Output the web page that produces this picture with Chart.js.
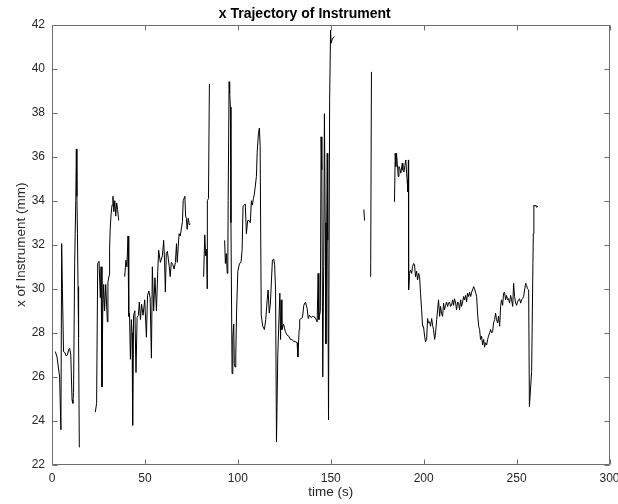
<!DOCTYPE html>
<html>
<head>
<meta charset="utf-8">
<title>x Trajectory of Instrument</title>
<script src="https://cdn.jsdelivr.net/npm/chart.js@4.4.1/dist/chart.umd.min.js"></script>
<style>
  html, body { margin: 0; padding: 0; background: #fff; }
</style>
</head>
<body>
<canvas id="myChart" width="618" height="504"></canvas>
<script>
// recorded segments of the instrument x position (time in s, x in mm)
// the tracker lost the instrument between segments, so they are drawn with gaps
var time1 = [1.8, 2.7, 4.1, 4.8, 5.2, 5.6, 6.2, 7.0, 7.6, 8.3, 9.0, 9.5, 10.1, 10.8, 11.2, 11.6, 12.2, 12.8, 13.1, 13.4, 13.7, 14.0, 14.3, 14.7];
var xPos1 = [27.15, 26.9, 26.0, 23.6, 32.05, 30.0, 27.15, 27.1, 26.95, 27.0, 27.25, 27.3, 27.0, 24.95, 24.8, 25.3, 31.2, 34.0, 36.35, 34.2, 32.5, 30.1, 27.8, 22.8];

var time2 = [23.3, 24.0, 24.6, 25.3, 26.0, 26.4, 26.9, 27.3, 27.8, 28.3, 28.9, 29.8, 30.1, 30.7, 31.0, 31.3, 31.8, 32.3, 32.8, 33.3, 33.8, 34.3, 34.8, 35.3, 35.9];
var xPos2 = [24.4, 24.8, 31.15, 31.25, 29.6, 31.0, 25.55, 28.9, 30.2, 29.0, 30.2, 28.5, 30.3, 30.6, 31.8, 32.7, 33.4, 33.8, 34.2, 33.5, 34.0, 33.3, 33.9, 33.6, 33.1];

var time3 = [39.1, 39.8, 40.3, 40.9, 41.3, 41.7, 42.2, 42.7, 43.1, 43.4,
             43.9, 44.6, 45.2, 45.8, 46.5, 47.0, 47.6, 48.2, 49.0, 49.9,
             50.8, 51.4, 52.1, 52.8, 53.5, 54.0, 54.7, 55.4, 56.2, 56.9,
             57.4, 58.3, 59.4, 60.1, 60.6, 61.0, 61.5, 62.1, 63.1, 63.6,
             64.2, 65.0, 65.7, 66.4, 67.0, 67.4, 67.9, 68.4, 69.0, 70.2,
             70.6, 71.5, 71.9, 72.3, 72.7, 73.3, 73.9, 74.4];
var xPos3 = [30.55, 31.3, 31.0, 32.4, 28.75, 28.9, 26.8, 28.6, 28.0, 23.8,
             28.8, 29.0, 26.2, 28.7, 28.8, 29.4, 28.6, 29.3, 28.8, 29.5,
             27.8, 29.7, 29.9, 29.6, 26.85, 31.0, 29.0, 30.5, 29.0, 30.8,
             31.75, 31.2, 31.5, 32.2, 31.2, 29.85, 31.6, 31.7, 31.0, 30.55,
             31.2, 31.1, 30.9, 31.2, 32.05, 31.2, 31.9, 32.5, 32.4, 33.05,
             34.0, 34.2, 33.3, 33.2, 32.7, 33.2, 32.9, 32.95];

var time4 = [81.6, 82.2, 82.7, 83.2, 83.5, 83.6, 84.2, 84.7];
var xPos4 = [30.55, 32.45, 31.5, 31.8, 30.0, 34.0, 34.1, 39.3];

var time5 = [92.9, 93.3, 93.8, 94.3, 94.6, 94.8, 95.3, 95.6, 96.0, 96.3,
             96.9, 97.3, 97.8, 98.1, 98.5, 98.9, 99.3, 100.0, 100.9, 101.7,
             102.3, 102.8, 103.5, 104.0, 104.6, 105.3, 106.1, 106.7, 107.3, 107.8,
             108.4, 108.9, 110.0, 110.4, 111.1, 111.6, 112.0, 112.6, 113.4, 114.3,
             115.0, 115.8, 116.3, 116.9, 117.5, 118.1, 118.6, 119.3, 119.8, 120.3,
             120.8, 121.5, 122.6, 123.0, 123.3, 123.7, 124.6, 125.6, 126.5, 127.4,
             128.3, 129.2, 130.1, 131.0, 131.9, 132.3, 133.0, 133.3, 134.0, 134.8,
             135.5, 136.4, 137.3, 137.9, 138.5, 139.4, 140.3, 141.6, 142.7, 143.2,
             143.6, 144.4, 144.8, 145.2, 145.7, 146.2, 146.6, 147.0, 147.4, 148.1,
             148.4, 148.8, 149.4, 149.9, 150.2, 150.7, 151.3, 152.0];
var xPos5 = [32.2, 31.15, 31.6, 30.7, 30.9, 34.0, 39.4, 38.9, 38.25, 33.0,
             26.15, 27.8, 28.4, 26.6, 26.45, 27.0, 28.9, 30.8, 31.15, 31.2,
             31.75, 33.75, 33.8, 33.85, 32.5, 33.1, 33.1, 33.0, 34.0, 33.8,
             34.1, 34.3, 35.1, 36.2, 37.05, 37.3, 36.5, 28.8, 28.3, 28.15,
             28.6, 29.5, 29.95, 28.9, 29.3, 30.4, 31.3, 31.35, 31.1, 29.95,
             23.05, 27.0, 29.8, 27.7, 29.5, 28.15, 28.4, 28.05, 27.9, 27.85,
             27.7, 27.7, 27.6, 27.6, 27.55, 26.9, 28.15, 28.6, 28.65, 28.7,
             29.25, 29.4, 29.1, 28.65, 28.8, 28.7, 28.75, 28.7, 28.5, 30.7,
             28.6, 29.0, 36.9, 35.4, 26.0, 31.0, 37.95, 33.0, 27.5, 36.15,
             32.2, 24.05, 38.55, 41.75, 41.15, 41.3, 41.4, 41.45];

var time6 = [167.8, 168.2];
var xPos6 = [33.6, 33.1];

var time7 = [171.3, 171.5, 171.9];
var xPos7 = [30.55, 31.2, 39.85];

var time8 = [184.3, 184.7, 185.0, 185.4, 185.8, 186.3, 186.7, 187.2, 187.7, 188.5,
             188.8, 189.4, 189.9, 190.4, 190.8, 191.1, 191.5, 191.8,
             191.9, 192.4, 192.9, 193.5, 194.0, 194.6, 195.1, 195.6, 196.2, 196.7,
             197.3, 197.8, 198.3, 198.9, 199.4, 199.9, 200.5, 201.0, 201.6, 202.1,
             202.6, 203.2, 203.7, 204.3, 204.8, 205.3, 205.9, 206.4, 207.0, 207.5,
             208.0, 208.6, 209.1, 209.6, 210.2, 210.7, 211.2, 211.8, 212.3, 212.9,
             213.4, 213.9, 214.5, 215.0, 215.6, 216.1, 216.6, 217.2, 217.7, 218.3,
             218.8, 219.3, 219.9, 220.4, 221.0, 221.5, 222.0, 222.6, 223.1, 223.6,
             224.2, 224.7, 225.3, 225.8, 226.3, 226.9, 227.4, 227.9, 228.5, 229.0,
             229.6, 230.1, 230.6, 231.2, 231.7, 232.3, 232.8, 233.3, 233.9, 234.4,
             234.9, 235.5, 236.0, 236.6, 237.1, 237.6, 238.2, 238.7, 239.2, 239.8,
             240.3, 240.9, 241.4, 241.9, 242.5, 243.0, 243.5, 244.1, 244.6, 245.2,
             245.7, 246.2, 246.8, 247.3, 247.9, 248.4, 248.9, 249.5, 250.0, 250.5,
             251.1, 251.6, 252.2, 252.7, 253.2, 253.8, 254.3, 254.9, 255.4, 255.9,
             256.5, 256.9,
             258.1, 258.8, 259.0, 259.3, 259.8, 260.3, 260.8, 261.5];
var xPos8 = [33.95, 36.15, 35.55, 36.15, 35.7, 35.1, 35.55, 35.45, 35.25, 35.7,
             35.4, 35.3, 35.6, 35.85, 35.25, 34.95, 34.4, 35.85,
             29.95, 30.7, 30.85, 30.7, 31.0, 31.15, 31.1, 30.55, 30.8, 30.4,
             30.7, 30.55, 29.8, 29.05, 28.3, 28.3, 27.85, 27.6, 27.7, 28.65,
             28.45, 28.5, 28.3, 28.65, 28.35, 28.15, 27.7, 28.0, 28.6, 29.05,
             29.5, 28.75, 29.2, 28.9, 28.75, 29.35, 29.05, 29.25, 29.4, 29.2,
             29.35, 29.4, 29.2, 29.25, 29.5, 29.25, 29.55, 29.35, 29.05, 29.4,
             29.35, 29.05, 29.5, 29.2, 29.4, 29.65, 29.5, 29.7, 29.4, 29.8,
             29.65, 29.85, 29.65, 29.85, 29.95, 30.1, 30.0, 29.85, 29.65, 28.9,
             28.3, 28.15, 27.7, 27.85, 27.45, 27.7, 27.35, 27.55, 27.45, 27.7,
             27.85, 28.0, 28.15, 28.0, 28.05, 28.45, 28.6, 28.9, 28.6, 28.45,
             28.75, 28.3, 29.2, 29.5, 29.25, 29.8, 29.85, 29.5, 29.7, 29.5,
             29.55, 29.35, 29.7, 29.5, 29.2, 30.25, 29.65, 29.35, 29.25, 29.4,
             29.5, 29.55, 29.35, 29.5, 29.55, 29.65, 29.95, 30.25, 30.15, 30.0,
             29.95, 24.65,
             26.25, 31.15, 32.5, 33.8, 33.75, 33.8, 33.7, 33.75];

var segTimes = [time1, time2, time3, time4, time5, time6, time7, time8];
var segXPos = [xPos1, xPos2, xPos3, xPos4, xPos5, xPos6, xPos7, xPos8];

var xTicksMin = 0, xTicksMax = 300, xStep = 50;
var yTicksMin = 22, yTicksMax = 42, yStep = 2;

// build one line with a null point between segments so the line breaks
var points = [];
for (var s = 0; s < segTimes.length; s++) {
    if (s > 0) points.push({x: segTimes[s][0] - 0.05, y: null});
    for (var i = 0; i < segTimes[s].length; i++) {
        points.push({x: segTimes[s][i], y: segXPos[s][i]});
    }
}

var FONT = "'Liberation Sans', Arial, Helvetica, sans-serif";

// MATLAB style box with ticks pointing inward on all four sides
var boxTicks = {
    id: "boxTicks",
    afterDatasetsDraw: function (chart) {
        var ctx = chart.ctx, a = chart.chartArea;
        var xs = chart.scales.x, ys = chart.scales.y;
        var len = 5;
        ctx.save();
        ctx.strokeStyle = "#6e6e6e";
        ctx.lineWidth = 1;
        ctx.beginPath();
        var L = Math.round(a.left) + 0.5, R = Math.round(a.right) - 0.5;
        var T = Math.round(a.top) + 0.5, B = Math.round(a.bottom) - 0.5;
        xs.ticks.forEach(function (t) {
            var px = Math.round(xs.getPixelForValue(t.value)) + 0.5;
            ctx.moveTo(px, B); ctx.lineTo(px, B - len);
            ctx.moveTo(px, T); ctx.lineTo(px, T + len);
        });
        ys.ticks.forEach(function (t) {
            var py = Math.round(ys.getPixelForValue(t.value)) + 0.5;
            ctx.moveTo(L, py); ctx.lineTo(L + len, py);
            ctx.moveTo(R, py); ctx.lineTo(R - len, py);
        });
        ctx.rect(L, T, R - L, B - T);
        ctx.stroke();
        ctx.restore();
    }
};

new Chart("myChart", {
    type: "line",
    data: {
        datasets: [{
            data: points,
            borderColor: "#000000",
            borderWidth: 1,
            pointRadius: 0,
            tension: 0,
            spanGaps: false,
            fill: false
        }]
    },
    options: {
        responsive: false,
        animation: false,
        layout: {padding: {left: 0, right: 8.5, top: 0, bottom: 0}},
        plugins: {
            legend: {display: false},
            tooltip: {enabled: false},
            title: {
                display: true,
                text: "x Trajectory of Instrument",
                color: "#000000",
                font: {family: FONT, size: 14, weight: "bold"},
                padding: {top: 5.7, bottom: 2.0}
            }
        },
        scales: {
            x: {
                type: "linear",
                min: xTicksMin,
                max: xTicksMax,
                grid: {display: false, drawTicks: false},
                border: {display: false},
                ticks: {
                    stepSize: xStep,
                    padding: 6.3,
                    color: "#262626",
                    maxRotation: 0,
                    font: {family: FONT, size: 12}
                },
                title: {
                    display: true,
                    text: "time (s)",
                    color: "#262626",
                    font: {family: FONT, size: 13.5},
                    padding: {top: 0, bottom: 3.7}
                },
                afterFit: function (scale) {
                    scale.height = 39;
                    scale.paddingRight = 8.5;
                }
            },
            y: {
                min: yTicksMin,
                max: yTicksMax,
                grid: {display: false, drawTicks: false},
                border: {display: false},
                ticks: {
                    stepSize: yStep,
                    padding: 7,
                    color: "#262626",
                    font: {family: FONT, size: 12}
                },
                title: {
                    display: true,
                    text: "x of Instrument (mm)",
                    color: "#262626",
                    font: {family: FONT, size: 13.5},
                    padding: {top: 13.5, bottom: 0}
                },
                afterFit: function (scale) {
                    scale.width = 52;
                }
            }
        }
    },
    plugins: [boxTicks]
});
</script>
</body>
</html>
